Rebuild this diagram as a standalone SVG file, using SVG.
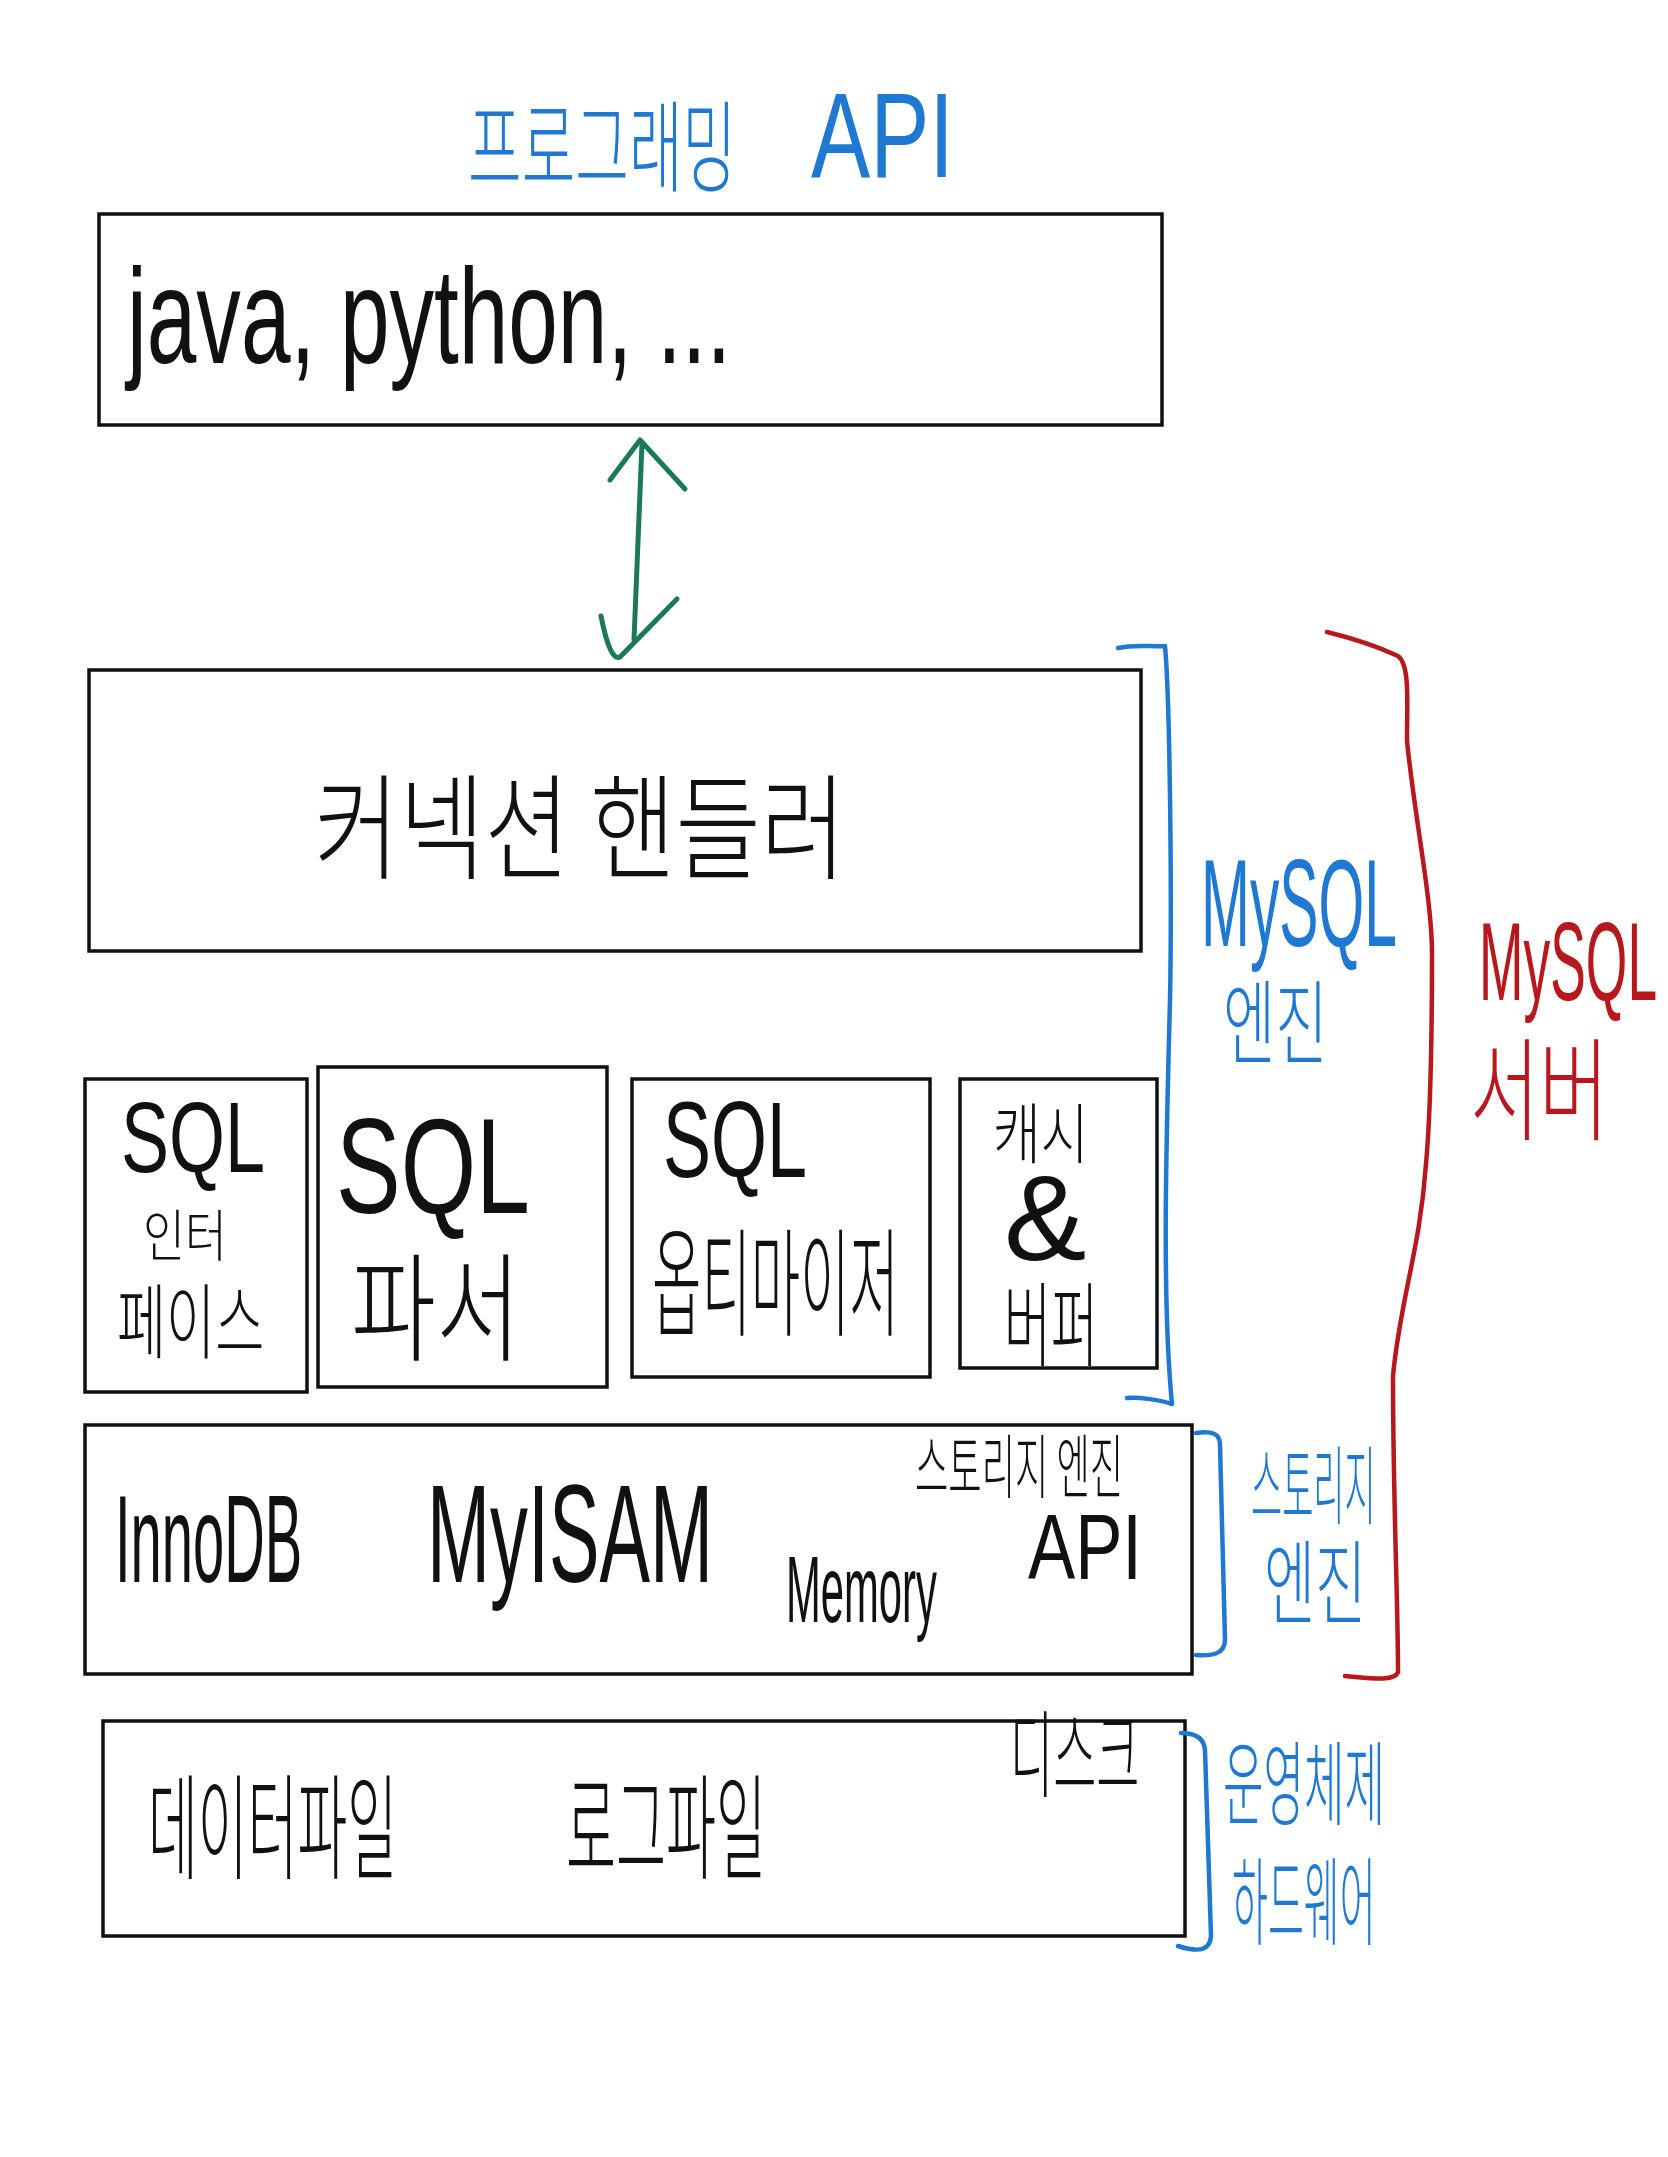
<svg xmlns="http://www.w3.org/2000/svg" width="1668" height="2157" viewBox="0 0 1668 2157">
  <style>
    .box { fill: none; stroke: #111; stroke-width: 3.5; }
    .ko { font-family: "Noto Sans CJK KR", "Noto Sans", sans-serif; font-weight: 300; }
    .la { font-family: "Liberation Sans", "Noto Sans CJK KR", sans-serif; font-weight: normal; }
    .ink { fill: #111; }
    .blue { fill: #1f78d1; }
    .red { fill: #b8171c; }
    .bstroke { fill: none; stroke: #1f78d1; stroke-width: 4.5; stroke-linecap: round; stroke-linejoin: round; }
    .rstroke { fill: none; stroke: #b8171c; stroke-width: 4.5; stroke-linecap: round; stroke-linejoin: round; }
    .gstroke { fill: none; stroke: #1b7a55; stroke-width: 5; stroke-linecap: round; stroke-linejoin: round; }
  </style>
  <rect width="1668" height="2157" fill="#ffffff"/>

  <g id="title-programming-api">
    <text class="ko blue" transform="translate(468,184) scale(0.583,1)" font-size="100">프로그래밍</text>
    <text class="la blue" transform="translate(811,177) scale(0.739,1)" font-size="120">API</text>
  </g>

  <g id="node-languages">
    <rect class="box" x="99" y="214" width="1063" height="211"/>
    <text class="la ink" transform="translate(127,363) scale(0.66,1)" font-size="135">java, python, ...</text>
  </g>

  <g id="node-connection-handler">
    <rect class="box" x="89" y="670" width="1052" height="281"/>
    <text class="ko ink" transform="translate(314,870) scale(0.806,1)" font-size="115">커넥션 핸들러</text>
  </g>

  <g id="node-sql-interface">
    <rect class="box" x="85" y="1079" width="222" height="313"/>
    <text class="la ink" transform="translate(121,1172) scale(0.72,1)" font-size="100">SQL</text>
    <text class="ko ink" transform="translate(143,1256) scale(0.815,1)" font-size="56">인터</text>
    <text class="ko ink" transform="translate(117,1352) scale(0.651,1)" font-size="82">페이스</text>
  </g>

  <g id="node-sql-parser">
    <rect class="box" x="318" y="1067" width="289" height="320"/>
    <text class="la ink" transform="translate(336,1213) scale(0.718,1)" font-size="135">SQL</text>
    <text class="ko ink" transform="translate(351,1352) scale(0.783,1)" font-size="118">파서</text>
  </g>

  <g id="node-sql-optimizer">
    <rect class="box" x="632" y="1079" width="298" height="298"/>
    <text class="la ink" transform="translate(663,1177) scale(0.666,1)" font-size="108">SQL</text>
    <text class="ko ink" transform="translate(652,1327) scale(0.455,1)" font-size="118">옵티마이저</text>
  </g>

  <g id="node-cache-buffer">
    <rect class="box" x="960" y="1079" width="197" height="289"/>
    <text class="ko ink" transform="translate(993,1158) scale(0.785,1)" font-size="66">캐시</text>
    <text class="la ink" transform="translate(1004,1260) scale(1.03,1)" font-size="120">&amp;</text>
    <text class="ko ink" transform="translate(1004,1359) scale(0.556,1)" font-size="92">버퍼</text>
  </g>

  <g id="node-storage-engines">
    <rect class="box" x="85" y="1425" width="1107" height="249"/>
    <text class="la ink" transform="translate(115,1582) scale(0.449,1)" font-size="125">InnoDB</text>
    <text class="la ink" transform="translate(427,1582) scale(0.541,1)" font-size="140">MyISAM</text>
    <text class="la ink" transform="translate(786,1622) scale(0.44,1)" font-size="95">Memory</text>
    <text class="ko ink" transform="translate(915,1493) scale(0.518,1)" font-size="70">스토리지 엔진</text>
    <text class="la ink" transform="translate(1028,1579) scale(0.769,1)" font-size="92">API</text>
  </g>

  <g id="node-disk">
    <rect class="box" x="103" y="1721" width="1082" height="215"/>
    <text class="ko ink" transform="translate(148,1870) scale(0.471,1)" font-size="115">데이터파일</text>
    <text class="ko ink" transform="translate(566,1870) scale(0.473,1)" font-size="115">로그파일</text>
    <text class="ko ink" transform="translate(1010,1790) scale(0.494,1)" font-size="95">디스크</text>
  </g>

  <g id="connectors">
    <path class="gstroke" d="M642,443 L634,640"/>
    <path class="gstroke" d="M610,480 L640,440 L685,489"/>
    <path class="gstroke" d="M601,616 Q610,662 620,657 L677,599"/>
  </g>

  <g id="group-mysql-engine">
    <path class="bstroke" d="M1118,648 C1135,644 1150,647 1165,646 C1170,700 1172,900 1170,1000 C1166,1150 1162,1300 1172,1404 C1160,1400 1140,1397 1127,1398"/>
    <text class="la blue" transform="translate(1201,946) scale(0.47,1)" font-size="125">MySQL</text>
    <text class="ko blue" transform="translate(1223,1057) scale(0.616,1)" font-size="92">엔진</text>
  </g>

  <g id="group-mysql-server">
    <path class="rstroke" d="M1327,632 C1360,640 1385,650 1398,656 C1410,665 1407,700 1407,741 C1415,820 1432,900 1432,953 C1432,1050 1430,1120 1426,1164 C1420,1250 1400,1300 1393,1376 C1393,1500 1398,1600 1398,1672 C1395,1682 1370,1678 1345,1676"/>
    <text class="la red" transform="translate(1479,1000) scale(0.477,1)" font-size="112">MySQL</text>
    <text class="ko red" transform="translate(1470,1132) scale(0.673,1)" font-size="112">서버</text>
  </g>

  <g id="group-storage-engine">
    <path class="bstroke" d="M1196,1433 C1212,1431 1220,1433 1220,1445 L1225,1640 C1225,1655 1210,1656 1196,1655"/>
    <text class="ko blue" transform="translate(1251,1518) scale(0.394,1)" font-size="86">스토리지</text>
    <text class="ko blue" transform="translate(1264,1617) scale(0.604,1)" font-size="92">엔진</text>
  </g>

  <g id="group-os-hardware">
    <path class="bstroke" d="M1181,1733 C1195,1733 1204,1738 1205,1750 L1211,1936 C1210,1950 1200,1953 1178,1946"/>
    <text class="ko blue" transform="translate(1223,1818) scale(0.479,1)" font-size="92">운영체제</text>
    <text class="ko blue" transform="translate(1232,1937) scale(0.407,1)" font-size="96">하드웨어</text>
  </g>
</svg>
